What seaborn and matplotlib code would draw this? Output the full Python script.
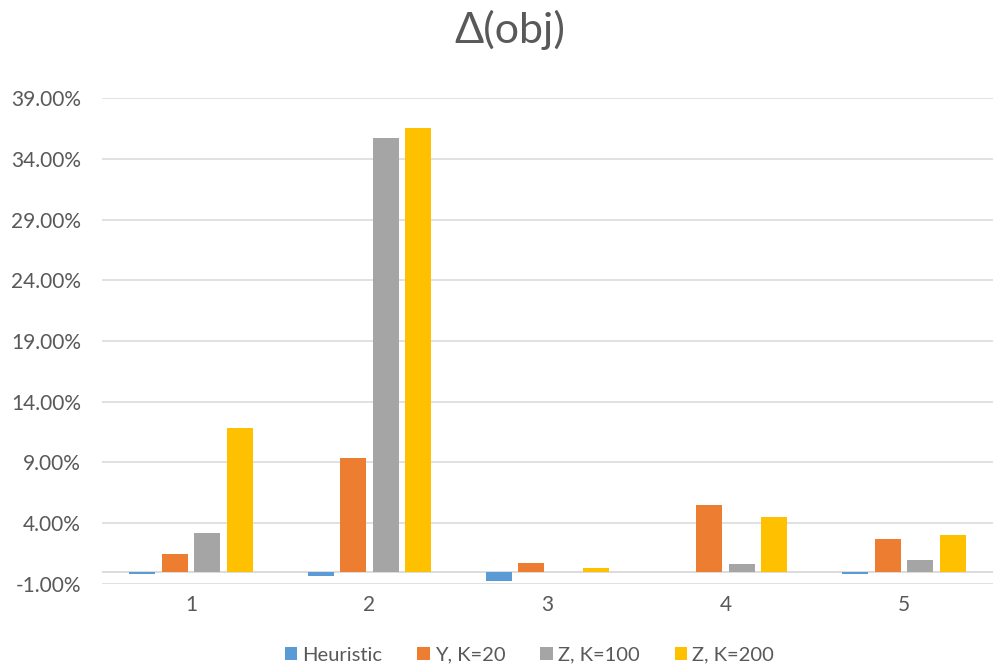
import matplotlib
matplotlib.use("Agg")
import matplotlib.pyplot as plt
import matplotlib.ticker as mticker
import pandas as pd
import seaborn as sns

# Scenario indices on the category axis
categories = ["1", "2", "3", "4", "5"]

# Relative objective change (%) per method
heuristic = [-0.2, -0.35, -0.75, 0.0, -0.2]
y_k20 = [1.5, 9.35, 0.7, 5.5, 2.7]
z_k100 = [3.2, 35.7, 0.0, 0.65, 1.0]
z_k200 = [11.8, 36.5, 0.35, 4.5, 3.0]

series_names = ["Heuristic", "Y, K=20", "Z, K=100", "Z, K=200"]
series_colors = ["#5B9BD5", "#ED7D31", "#A5A5A5", "#FFC000"]

y_ticks = [-1, 4, 9, 14, 19, 24, 29, 34, 39]

rows = []
for name, vals in zip(series_names, [heuristic, y_k20, z_k100, z_k200]):
    for cat, v in zip(categories, vals):
        rows.append({"cat": cat, "series": name, "val": v})
df = pd.DataFrame(rows)

sns.set_theme(style="white")
plt.rcParams["font.family"] = ["Lato", "DejaVu Sans"]
text_color = "#595959"
grid_color = "#D9D9D9"

fig = plt.figure(figsize=(9.95, 6.7), dpi=100)
ax = fig.add_axes([0.1025, 0.1284, 0.8955, 0.7253])

sns.barplot(data=df, x="cat", y="val", hue="series", order=categories,
            hue_order=series_names, palette=series_colors, saturation=1,
            width=0.73, gap=0.2, linewidth=0, edgecolor="none",
            errorbar=None, ax=ax, zorder=3)

ax.set_ylim(-1, 39)
ax.set_xlim(-0.5, 4.5)
ax.set_yticks(y_ticks)
ax.yaxis.set_major_formatter(mticker.FuncFormatter(lambda v, p: f"{v:.2f}%"))
ax.grid(axis="y", color=grid_color, linewidth=1.1, zorder=0)
ax.grid(axis="x", visible=False)
ax.axhline(0, color=grid_color, linewidth=1.3, zorder=2)
for s in ax.spines.values():
    s.set_visible(False)
ax.tick_params(axis="both", length=0, labelsize=15, colors=text_color)
ax.tick_params(axis="y", pad=15)
ax.tick_params(axis="x", pad=8)
ax.set_xlabel("")
ax.set_ylabel("")

handles, labels = ax.get_legend_handles_labels()
ax.legend_.remove()
fig.legend(handles, labels, loc="center", bbox_to_anchor=(0.532, 0.022),
           ncol=4, frameon=False, fontsize=14.5, handlelength=0.6,
           handleheight=0.6, handletextpad=0.25, columnspacing=1.75,
           labelcolor=text_color)

fig.text(0.5126, 0.955, "Δ(obj)", ha="center", va="center",
         fontsize=31, color=text_color)

fig.savefig("out.png", dpi=100)
